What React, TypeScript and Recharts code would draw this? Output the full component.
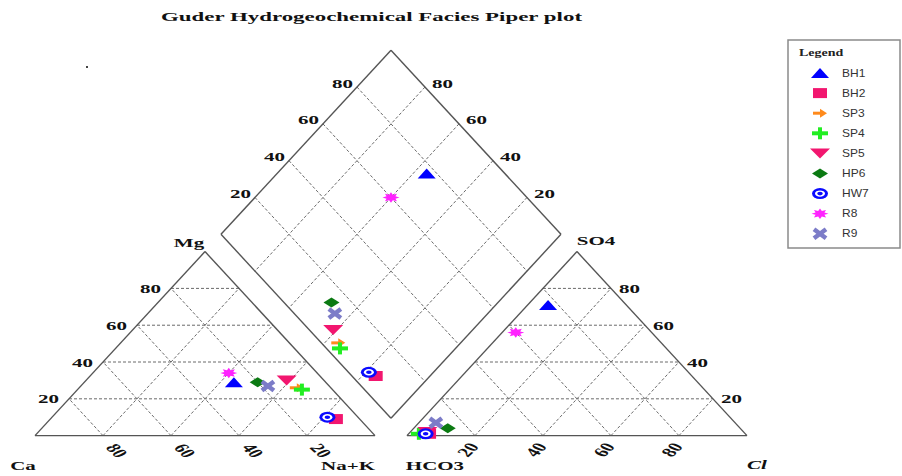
import React from 'react';
import { ScatterChart, Scatter, XAxis, YAxis, ReferenceLine } from 'recharts';

// water samples, % meq
const SAMPLES = ['BH1', 'BH2', 'SP3', 'SP4', 'SP5', 'HP6', 'HW7', 'R8', 'R9'];
const CA = [27, 7, 10, 9, 11, 20, 9, 26, 18];
const MG = [29, 9, 26, 25, 30, 29, 10, 34, 27];
const NAK = [44, 84, 64, 66, 59, 51, 81, 40, 55];
const HCO3 = [23, 93, 95, 96, 93, 86, 94, 40, 88];
const SO4 = [71, 1, 1, 1, 2, 4, 1, 56, 7];
const CL = [6, 6, 4, 3, 5, 10, 5, 4, 5];

const TICKS = [20, 40, 60, 80];

const SHAPES = ['triangle', 'square', 'arrow', 'plus', 'down', 'diamond', 'target', 'star', 'cross'];
const COLORS = ['#0000ff', '#f2166f', '#ff8a1c', '#22ee22', '#f2166f', '#0b7a12', '#0a0aff', '#ff22ff', '#7c7cc8'];

// piper geometry (units: triangle side = 100)
const H = Math.sqrt(3) / 2;
const GAP = 9.4;
const tri = (ox: number, top: number, right: number) => ({ x: ox + right + top / 2, y: top * H });
const cation = (mg: number, na: number) => tri(0, mg, na);
const anion = (so4: number, cl: number) => tri(100 + GAP, so4, cl);
const dia = (na: number, hco3: number) => ({
    x: 100 + GAP / 2 + (na - hco3) / 2,
    y: H * (GAP + (100 - na) + (100 - hco3)),
});

const pct = (v: number, a: number, b: number, c: number) => (v / (a + b + c)) * 100;

const samplePoints = SAMPLES.map((_, i) => {
    const mg = pct(MG[i], CA[i], MG[i], NAK[i]);
    const na = pct(NAK[i], CA[i], MG[i], NAK[i]);
    const so4 = pct(SO4[i], HCO3[i], SO4[i], CL[i]);
    const cl = pct(CL[i], HCO3[i], SO4[i], CL[i]);
    const hco3 = 100 - so4 - cl;
    return [cation(mg, na), anion(so4, cl), dia(na, hco3)];
});

type Pt = { x: number; y: number };
const outline: [Pt, Pt][] = [
    [cation(0, 0), cation(0, 100)], [cation(0, 100), cation(100, 0)], [cation(100, 0), cation(0, 0)],
    [anion(0, 0), anion(0, 100)], [anion(0, 100), anion(100, 0)], [anion(100, 0), anion(0, 0)],
    [dia(100, 100), dia(0, 100)], [dia(0, 100), dia(0, 0)], [dia(0, 0), dia(100, 0)], [dia(100, 0), dia(100, 100)],
];

const grid: [Pt, Pt][] = [];
TICKS.forEach(t => {
    grid.push([cation(t, 0), cation(t, 100 - t)]);
    grid.push([cation(0, t), cation(100 - t, t)]);
    grid.push([cation(0, 100 - t), cation(100 - t, 0)]);
    grid.push([anion(t, 0), anion(t, 100 - t)]);
    grid.push([anion(0, t), anion(100 - t, t)]);
    grid.push([anion(0, 100 - t), anion(100 - t, 0)]);
    grid.push([dia(t, 0), dia(t, 100)]);
    grid.push([dia(0, t), dia(100, t)]);
});

const labels = [
    ...TICKS.map(t => ({ ...cation(t, 0), text: String(t), kind: 'mg' })),
    ...TICKS.map(t => ({ ...cation(0, 100 - t), text: String(t), kind: 'ca' })),
    ...TICKS.map(t => ({ ...anion(0, t), text: String(t), kind: 'cl' })),
    ...TICKS.map(t => ({ ...anion(t, 100 - t), text: String(t), kind: 'so4' })),
    ...TICKS.map(t => ({ ...dia(0, 100 - t), text: String(t), kind: 'dl' })),
    ...TICKS.map(t => ({ ...dia(100 - t, 0), text: String(t), kind: 'dr' })),
    { ...cation(0, 0), text: 'Ca', kind: 'cCa' },
    { ...cation(0, 100), text: 'Na+K', kind: 'cNa' },
    { ...cation(100, 0), text: 'Mg', kind: 'cMg' },
    { ...anion(0, 0), text: 'HCO3', kind: 'cHco3' },
    { ...anion(0, 100), text: 'Cl', kind: 'cCl' },
    { ...anion(100, 0), text: 'SO4', kind: 'cSo4' },
];

const LAYOUT: Record<string, { dx: number; dy: number; anchor: string; rot: number; italic?: boolean }> = {
    mg: { dx: -10, dy: 0, anchor: 'end', rot: 0 },
    so4: { dx: 8, dy: 0, anchor: 'start', rot: 0 },
    ca: { dx: 14, dy: 15, anchor: 'middle', rot: 55 },
    cl: { dx: -7, dy: 14, anchor: 'middle', rot: -55 },
    dl: { dx: -4, dy: -4, anchor: 'end', rot: 0 },
    dr: { dx: 7, dy: -4, anchor: 'start', rot: 0 },
    cCa: { dx: -12, dy: 30, anchor: 'middle', rot: 0 },
    cNa: { dx: -27, dy: 30, anchor: 'middle', rot: 0 },
    cMg: { dx: -16, dy: -9, anchor: 'middle', rot: 0 },
    cHco3: { dx: 28, dy: 30, anchor: 'middle', rot: 0 },
    cCl: { dx: 10, dy: 29, anchor: 'middle', rot: 0, italic: true },
    cSo4: { dx: 19, dy: -11, anchor: 'middle', rot: 0 },
};

const LabelText = (props: any) => {
    const { cx, cy, payload } = props;
    const l = LAYOUT[payload.kind];
    return (
        <g transform={`translate(${cx + l.dx},${cy + l.dy}) scale(1,0.63) rotate(${l.rot})`}>
            <text x={0} y={0} textAnchor={l.anchor} dominantBaseline="central" fontFamily="'Liberation Serif', serif"
                fontWeight="bold" fontStyle={l.italic ? 'italic' : 'normal'} fontSize={21} fill="#111">
                {payload.text}
            </text>
        </g>
    );
};

const Marker = ({ kind, color, cx, cy }: { kind: string; color: string; cx: number; cy: number }) => {
    switch (kind) {
        case 'triangle':
            return <polygon points={`${cx - 9},${cy + 5} ${cx + 9},${cy + 5} ${cx},${cy - 5}`} fill={color} />;
        case 'square':
            return <rect x={cx - 7} y={cy - 5} width={14} height={10} fill={color} />;
        case 'arrow':
            return (
                <g fill={color}>
                    <rect x={cx - 7} y={cy - 1.5} width={8} height={3} />
                    <polygon points={`${cx},${cy - 4.5} ${cx + 7},${cy} ${cx},${cy + 4.5}`} />
                </g>
            );
        case 'plus':
            return (
                <g fill={color}>
                    <rect x={cx - 8} y={cy - 2} width={16} height={4} />
                    <rect x={cx - 2} y={cy - 6} width={4} height={12} />
                </g>
            );
        case 'down':
            return <polygon points={`${cx - 10},${cy - 5} ${cx + 10},${cy - 5} ${cx},${cy + 5}`} fill={color} />;
        case 'diamond':
            return <polygon points={`${cx - 8},${cy} ${cx},${cy - 5} ${cx + 8},${cy} ${cx},${cy + 5}`} fill={color} />;
        case 'target':
            return (
                <g>
                    <ellipse cx={cx} cy={cy} rx={8} ry={5.5} fill={color} />
                    <ellipse cx={cx} cy={cy} rx={5} ry={3.2} fill="#fff" />
                    <ellipse cx={cx} cy={cy} rx={2.8} ry={1.8} fill={color} />
                </g>
            );
        case 'star': {
            const pts = [];
            for (let k = 0; k < 16; k++) {
                const a = (k * Math.PI) / 8;
                const r = k % 2 ? 4.8 : 8.5;
                pts.push(`${cx + r * Math.cos(a)},${cy + r * Math.sin(a) * 0.62}`);
            }
            return <polygon points={pts.join(' ')} fill={color} />;
        }
        case 'cross':
            return (
                <g stroke={color} strokeWidth={4.5}>
                    <line x1={cx - 6} y1={cy - 4.5} x2={cx + 6} y2={cy + 4.5} />
                    <line x1={cx - 6} y1={cy + 4.5} x2={cx + 6} y2={cy - 4.5} />
                </g>
            );
        default:
            return null;
    }
};

const LegendBox = () => (
    <svg width={114} height={210} style={{ position: 'absolute', left: 787, top: 39 }}>
        <rect x={1} y={1} width={112} height={208} fill="#fff" stroke="#8a8a8a" strokeWidth={1.5} />
        <g transform="translate(12,14) scale(1,0.7)">
            <text x={0} y={0} dominantBaseline="central" fontFamily="'Liberation Serif', serif" fontWeight="bold" fontSize={14} fill="#222">Legend</text>
        </g>
        {SAMPLES.map((name, i) => {
            const y = 34 + i * 20.1;
            return (
                <g key={name}>
                    <Marker kind={SHAPES[i]} color={COLORS[i]} cx={33} cy={y} />
                    <g transform={`translate(55,${y}) scale(1,0.85)`}>
                        <text x={0} y={0} dominantBaseline="central" fontFamily="'Liberation Sans', Arial, sans-serif" fontSize={12} fill="#333">{name}</text>
                    </g>
                </g>
            );
        })}
    </svg>
);

const App: React.FC = () => {
    return (
        <div style={{ position: 'absolute', left: 0, top: 0, width: 902, height: 476, background: '#fff' }}>
            <ScatterChart width={902} height={476} margin={{ top: 0, right: 0, bottom: 0, left: 1 }}>
                <XAxis type="number" dataKey="x" domain={[-10, 255]} hide allowDataOverflow />
                <YAxis type="number" dataKey="y" domain={[-19, 205]} hide allowDataOverflow />
                {grid.map((s, i) => (
                    <ReferenceLine key={`g${i}`} segment={s} stroke="#6a6a6a" strokeDasharray="3 2" strokeWidth={1} />
                ))}
                {outline.map((s, i) => (
                    <ReferenceLine key={`o${i}`} segment={s} stroke="#555" strokeWidth={1.4} />
                ))}
                <Scatter data={labels} shape={(p: any) => <LabelText {...p} />} isAnimationActive={false} />
                {SAMPLES.map((name, i) => (
                    <Scatter key={name} name={name} data={samplePoints[i]} isAnimationActive={false}
                        shape={(p: any) => <Marker kind={SHAPES[i]} color={COLORS[i]} cx={p.cx} cy={p.cy} />} />
                ))}
            </ScatterChart>
            <svg width={902} height={80} style={{ position: 'absolute', left: 0, top: 0, pointerEvents: 'none' }}>
                <g transform="translate(371.5,16) scale(1,0.63)">
                    <text x={0} y={0} textAnchor="middle" dominantBaseline="central" fontFamily="'Liberation Serif', serif"
                        fontWeight="bold" fontSize={21} fill="#111" textLength={421} lengthAdjust="spacingAndGlyphs">
                        Guder Hydrogeochemical Facies Piper plot
                    </text>
                </g>
                <rect x={86} y={66} width={2} height={2} fill="#444" />
            </svg>
            <LegendBox />
        </div>
    );
};

export default App;
